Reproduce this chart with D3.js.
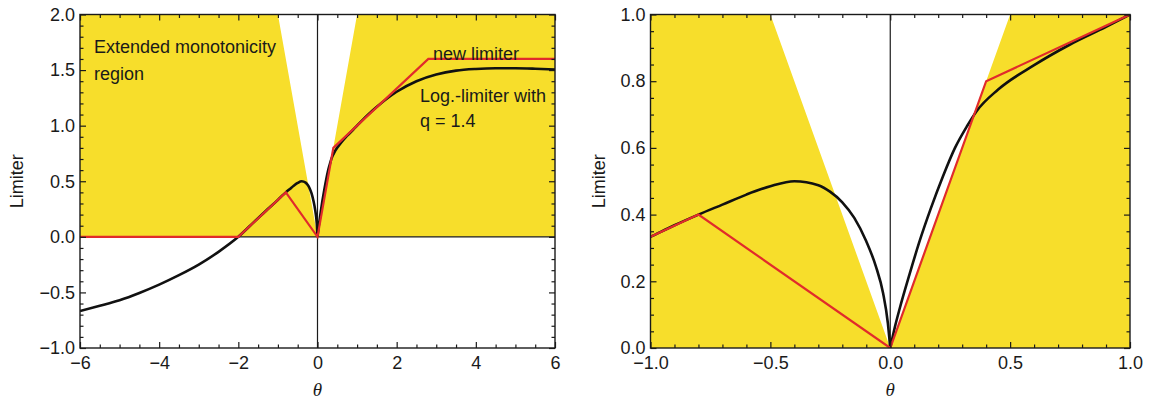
<!DOCTYPE html>
<html>
<head>
<meta charset="utf-8">
<script src="https://cdn.jsdelivr.net/npm/d3@7"></script>
<style>
  html, body { margin: 0; padding: 0; background: #fff; }
  svg { display: block; }
  text { font-family: "Liberation Sans", Arial, Helvetica, sans-serif; fill: #1a1a1a; }
  .axis path { display: none; }
  .axis line { stroke: #1a1a1a; stroke-width: 1.2; }
  .axis text { font-size: 18px; }
</style>
</head>
<body>
<svg id="chart" width="1149" height="401"></svg>
<script>
// --- data ---
// extended monotonicity region (outline, theta / phi)
const regionTheta = [-6, -6, -1, 0, 1, 6, 6];
const regionPhi   = [0, 2, 2, 0, 2, 2, 0];

// new limiter (piecewise linear break points)
const newTheta = [-6, -2, -0.8, 0, 0.4, 2.8, 6];
const newPhi   = [0, 0, 0.4, 0, 0.8, 1.6, 1.6];

const logThetaNeg = [-6, -5.5, -5, -4.5, -4, -3.5, -3, -2.5, -2, -1.6, -1.3, -1, -0.9, -0.8, -0.7, -0.6, -0.5, -0.4, -0.3, -0.25, -0.2, -0.15, -0.1, -0.06, -0.03, -0.01, 0];
const logPhiNeg   = [-0.667, -0.62, -0.57, -0.505, -0.43, -0.345, -0.25, -0.135, 0, 0.135, 0.235, 0.333, 0.368, 0.4, 0.43, 0.46, 0.485, 0.5, 0.488, 0.468, 0.437, 0.39, 0.32, 0.245, 0.165, 0.075, 0];
const logThetaPos = [0, 0.02, 0.04, 0.08, 0.12, 0.17, 0.22, 0.27, 0.32, 0.36, 0.45, 0.6, 0.75, 0.9, 1, 1.25, 1.5, 2, 2.5, 3, 3.5, 4, 4.5, 5, 5.5, 6];
const logPhiPos   = [0, 0.065, 0.12, 0.22, 0.315, 0.42, 0.515, 0.6, 0.665, 0.71, 0.775, 0.848, 0.91, 0.963, 1.0, 1.09, 1.17, 1.305, 1.40, 1.46, 1.495, 1.51, 1.516, 1.516, 1.512, 1.505];

// tick values
const leftXMajor = [-6, -4, -2, 0, 2, 4, 6];
const leftYMajor = [-1, -0.5, 0, 0.5, 1, 1.5, 2];
const rightXMajor = [-1, -0.5, 0, 0.5, 1];
const rightYMajor = [0, 0.2, 0.4, 0.6, 0.8, 1];

const YELLOW = '#f7de2b';
const RED = '#e12b2b';

const zip = (a, b) => a.map((v, i) => [v, b[i]]);
const fmt = d => d3.format('.1f')(d).replace('-', '\u2212');
const fmtInt = d => d3.format('d')(d).replace('-', '\u2212');

const svg = d3.select('#chart');

function drawPanel(cfg) {
  const { left, right, top, bottom } = cfg;
  const w = right - left, h = bottom - top;
  const x = d3.scaleLinear().domain(cfg.xDomain).range([0, w]);
  const y = d3.scaleLinear().domain(cfg.yDomain).range([h, 0]);
  const g = svg.append('g').attr('transform', `translate(${left},${top})`);

  g.append('clipPath').attr('id', cfg.id + '-clip')
    .append('rect').attr('x', 0).attr('y', 0).attr('width', w).attr('height', h);
  const plot = g.append('g').attr('clip-path', `url(#${cfg.id}-clip)`);

  const line = d3.line().x(d => x(d[0])).y(d => y(d[1]));

  // yellow region
  plot.append('path').datum(zip(regionTheta, regionPhi))
    .attr('fill', YELLOW).attr('stroke', 'none')
    .attr('d', line);

  // zero lines
  plot.append('line').attr('x1', x(0)).attr('x2', x(0)).attr('y1', 0).attr('y2', h)
    .attr('stroke', '#1a1a1a').attr('stroke-width', 1.2);
  if (cfg.yDomain[0] < 0) {
    plot.append('line').attr('x1', 0).attr('x2', w).attr('y1', y(0)).attr('y2', y(0))
      .attr('stroke', '#1a1a1a').attr('stroke-width', 1.2);
  }

  // log limiter, two branches with the cusp at zero
  const smooth = d3.line().x(d => x(d[0])).y(d => y(d[1])).curve(d3.curveMonotoneX);
  [zip(logThetaNeg, logPhiNeg), zip(logThetaPos, logPhiPos)].forEach(br => {
    plot.append('path').datum(br)
      .attr('fill', 'none').attr('stroke', '#111').attr('stroke-width', 2.6)
      .attr('stroke-linejoin', 'round')
      .attr('d', smooth);
  });

  // new limiter
  plot.append('path').datum(zip(newTheta, newPhi))
    .attr('fill', 'none').attr('stroke', RED).attr('stroke-width', 2.2)
    .attr('stroke-linejoin', 'miter')
    .attr('d', line);

  // axes, ticks inward on all four sides
  const addAxis = (axis, tr) => g.append('g').attr('class', 'axis').attr('transform', tr).call(axis);
  const xMinor = d3.range(cfg.xDomain[0], cfg.xDomain[1] + 1e-9, cfg.xMinor).filter(v => !cfg.xMajor.some(m => Math.abs(m - v) < 1e-9));
  const yMinor = d3.range(cfg.yDomain[0], cfg.yDomain[1] + 1e-9, cfg.yMinor).filter(v => !cfg.yMajor.some(m => Math.abs(m - v) < 1e-9));

  addAxis(d3.axisBottom(x).tickValues(cfg.xMajor).tickSize(-6).tickPadding(8).tickFormat(cfg.xFmt), `translate(0,${h})`);
  addAxis(d3.axisBottom(x).tickValues(xMinor).tickSize(-3.5).tickFormat(''), `translate(0,${h})`);
  addAxis(d3.axisTop(x).tickValues(cfg.xMajor).tickSize(-6).tickFormat(''), 'translate(0,0)');
  addAxis(d3.axisTop(x).tickValues(xMinor).tickSize(-3.5).tickFormat(''), 'translate(0,0)');
  addAxis(d3.axisLeft(y).tickValues(cfg.yMajor).tickSize(-6).tickPadding(5).tickFormat(fmt), 'translate(0,0)');
  addAxis(d3.axisLeft(y).tickValues(yMinor).tickSize(-3.5).tickFormat(''), 'translate(0,0)');
  addAxis(d3.axisRight(y).tickValues(cfg.yMajor).tickSize(-6).tickFormat(''), `translate(${w},0)`);
  addAxis(d3.axisRight(y).tickValues(yMinor).tickSize(-3.5).tickFormat(''), `translate(${w},0)`);

  g.append('rect').attr('width', w).attr('height', h)
    .attr('fill', 'none').attr('stroke', '#1a1a1a').attr('stroke-width', 1.4);

  // axis titles
  svg.append('text')
    .attr('transform', `translate(${cfg.yTitleX},${top + h / 2}) rotate(-90)`)
    .attr('text-anchor', 'middle').attr('font-size', 18).text('Limiter');
  svg.append('text')
    .attr('x', left + x(0)).attr('y', 396)
    .attr('text-anchor', 'middle')
    .style('font-family', '"Liberation Serif", "DejaVu Serif", serif')
    .style('font-style', 'italic').attr('font-size', 19).text('\u03b8');

  return { g, x, y };
}

const L = drawPanel({
  id: 'left', left: 80, right: 555, top: 14.5, bottom: 348,
  xDomain: [-6, 6], yDomain: [-1, 2],
  xMajor: leftXMajor, yMajor: leftYMajor, xMinor: 0.5, yMinor: 0.1,
  xFmt: fmtInt, yTitleX: 23
});

drawPanel({
  id: 'right', left: 650.5, right: 1130, top: 14.5, bottom: 348,
  xDomain: [-1, 1], yDomain: [0, 1],
  xMajor: rightXMajor, yMajor: rightYMajor, xMinor: 0.1, yMinor: 0.05,
  xFmt: fmt, yTitleX: 605
});

// annotations in the left panel
const ann = L.g.append('g').attr('font-size', 18);
ann.append('text').attr('x', 14).attr('y', 38.5).text('Extended monotonicity');
ann.append('text').attr('x', 14).attr('y', 65.5).text('region');
ann.append('text').attr('x', 353).attr('y', 45.5).text('new limiter');
ann.append('text').attr('x', 340).attr('y', 87).text('Log.-limiter with');
ann.append('text').attr('x', 340).attr('y', 112.5).text('q = 1.4');
</script>
</body>
</html>
